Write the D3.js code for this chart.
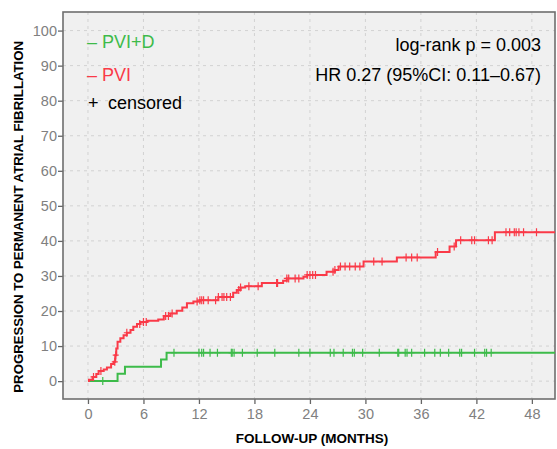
<!DOCTYPE html>
<html>
<head>
<meta charset="utf-8">
<script src="https://cdn.jsdelivr.net/npm/d3@7"></script>
<style>
  body { margin: 0; background: #fff; }
  svg { display: block; font-family: "Liberation Sans", Arial, sans-serif; }
</style>
</head>
<body>
<div id="chart"></div>
<script>
// PVI+D: step times (months) and cumulative % after each step
const pvidSteps = [[0, 0], [3.2, 2.1], [4.0, 4.1], [7.9, 6.2], [8.5, 8.1]];
const pvidCensored = [1.6, 9.3, 12.0, 12.3, 12.5, 13.2, 14.0, 15.5, 15.6, 15.8, 16.7, 18.3, 20.2, 22.8,
  24.0, 26.2, 26.6, 27.6, 28.6, 28.8, 29.7, 31.5, 33.5, 33.6, 34.3, 34.5, 35.0, 36.4, 37.5, 38.1,
  39.0, 40.2, 40.4, 41.8, 42.9, 43.1, 43.6];

// PVI
const pviSteps = [[0, 0], [0.1, 0.4], [0.5, 1.2], [0.9, 2.0], [1.15, 2.9], [1.7, 3.3], [2.05, 3.9],
  [2.5, 4.9], [2.8, 5.5], [2.95, 7.4], [3.06, 9.3], [3.2, 11.2], [3.5, 12.2], [3.85, 13.1],
  [4.2, 13.8], [4.6, 14.6], [4.9, 15.5], [5.3, 16.3], [5.65, 16.9], [6.4, 17.2], [7.6, 17.6],
  [8.2, 18.6], [8.9, 19.3], [9.6, 20.1], [10.2, 21.0], [10.7, 22.2], [11.4, 22.7], [12.1, 23.1],
  [14.1, 24.0], [15.7, 25.2], [16.1, 26.0], [16.5, 26.7], [17.0, 27.1], [18.8, 28.0],
  [21.1, 28.6], [21.5, 29.3], [23.3, 29.8], [23.7, 30.3], [25.8, 31.2], [26.7, 31.7],
  [27.1, 32.7], [29.8, 34.1], [33.4, 35.3], [37.6, 36.8], [39.1, 38.4], [39.8, 40.2],
  [44.0, 42.5]];
const pviCensored = [0.6, 1.4, 2.9, 3.0, 4.2, 5.6, 6.0, 6.3, 8.4, 8.7, 9.1, 11.8, 12.1, 12.3, 12.5,
  13.0, 13.8, 14.1, 14.5, 14.7, 15.0, 15.4, 16.3, 16.5, 17.4, 18.4, 20.4, 20.5, 21.5, 21.7,
  22.4, 22.8, 23.7, 24.0, 24.3, 24.6, 26.5, 26.7, 27.3, 27.8, 28.3, 28.9, 29.4, 30.9, 31.8,
  34.4, 35.0, 35.6, 37.8, 39.6, 40.3, 41.5, 41.8, 43.3, 43.7, 45.2, 45.6, 46.1, 46.3, 46.6,
  47.1, 48.5];

const xTicks = [0, 6, 12, 18, 24, 30, 36, 42, 48];
const yTicks = [0, 10, 20, 30, 40, 50, 60, 70, 80, 90, 100];
const endTime = 50.5;

const W = 557, H = 449;
const margin = { top: 12, right: 2, bottom: 50, left: 63 };
const green = '#3dbb4a', red = '#fa3a48';

const svg = d3.select('#chart').append('svg').attr('width', W).attr('height', H);

const x = d3.scaleLinear().domain([-2.7, endTime]).range([margin.left, W - margin.right]);
const y = d3.scaleLinear().domain([-5.1, 105.3]).range([H - margin.bottom, margin.top]);

// plot background
svg.append('rect')
  .attr('x', margin.left).attr('y', margin.top)
  .attr('width', W - margin.right - margin.left)
  .attr('height', H - margin.bottom - margin.top)
  .attr('fill', '#f0f0f0');

// grid
const grid = svg.append('g').attr('stroke', '#d2d2d2').attr('stroke-dasharray', '3,4');
grid.selectAll('.gx').data(xTicks).enter().append('line')
  .attr('x1', d => x(d)).attr('x2', d => x(d))
  .attr('y1', margin.top).attr('y2', H - margin.bottom);
grid.selectAll('.gy').data(yTicks).enter().append('line')
  .attr('x1', margin.left).attr('x2', W - margin.right)
  .attr('y1', d => y(d)).attr('y2', d => y(d));

// axes
const xAxis = svg.append('g')
  .attr('transform', `translate(0,${H - margin.bottom})`)
  .call(d3.axisBottom(x).tickValues(xTicks).tickSize(5).tickPadding(5));
const yAxis = svg.append('g')
  .attr('transform', `translate(${margin.left},0)`)
  .call(d3.axisLeft(y).tickValues(yTicks).tickSize(5).tickPadding(1));
[xAxis, yAxis].forEach(a => {
  a.select('.domain').remove();
  a.selectAll('line').attr('stroke', '#666').attr('stroke-width', 1.3);
  a.selectAll('text').attr('fill', '#808080').attr('font-size', 14.5)
    .attr('font-family', '"Liberation Sans", Arial, sans-serif');
});

// frame
svg.append('rect')
  .attr('x', margin.left).attr('y', margin.top)
  .attr('width', W - margin.right - margin.left)
  .attr('height', H - margin.bottom - margin.top)
  .attr('fill', 'none').attr('stroke', '#6e6e6e').attr('stroke-width', 1.6);

// step curves
function stepPath(steps) {
  const pts = steps.slice();
  pts.push([endTime, steps[steps.length - 1][1]]);
  return d3.line().x(d => x(d[0])).y(d => y(d[1])).curve(d3.curveStepAfter)(pts);
}
function valueAt(steps, t) {
  let v = 0;
  steps.forEach(s => { if (s[0] <= t) v = s[1]; });
  return v;
}

const groups = [
  { steps: pvidSteps, cens: pvidCensored, color: green },
  { steps: pviSteps, cens: pviCensored, color: red }
];
groups.forEach(g => {
  svg.append('path')
    .attr('d', stepPath(g.steps))
    .attr('fill', 'none').attr('stroke', g.color).attr('stroke-width', 2);
  svg.append('g').selectAll('path').data(g.cens).enter().append('path')
    .attr('d', d => {
      const cx = x(d), cy = y(valueAt(g.steps, d));
      return `M${cx - 3},${cy}H${cx + 3}M${cx},${cy - 4}V${cy + 4}`;
    })
    .attr('stroke', g.color).attr('stroke-width', 1.2);
});

// axis titles
svg.append('text')
  .attr('x', x(24) + 2).attr('y', 443)
  .attr('text-anchor', 'middle')
  .attr('font-size', 13.5).attr('font-weight', 'bold')
  .text('FOLLOW-UP (MONTHS)');
svg.append('text')
  .attr('transform', `translate(23,${y(50) + 11}) rotate(-90)`)
  .attr('text-anchor', 'middle')
  .attr('font-size', 13.2).attr('font-weight', 'bold')
  .text('PROGRESSION TO PERMANENT ATRIAL FIBRILLATION');

// legend
const legend = [
  { label: '– PVI+D', color: green, y: 48 },
  { label: '– PVI', color: red, y: 81 }
];
svg.selectAll('.leg').data(legend).enter().append('text')
  .attr('x', 87).attr('y', d => d.y)
  .attr('fill', d => d.color).attr('font-size', 18)
  .text(d => d.label);
svg.append('text').attr('x', 88).attr('y', 109).attr('font-size', 18).text('+');
svg.append('text').attr('x', 108).attr('y', 109).attr('font-size', 18).text('censored');

// statistics
const stats = ['log-rank p = 0.003', 'HR 0.27 (95%CI: 0.11–0.67)'];
svg.selectAll('.stat').data(stats).enter().append('text')
  .attr('x', 541).attr('y', (d, i) => 51 + i * 30)
  .attr('text-anchor', 'end').attr('font-size', 18)
  .text(d => d);
</script>
</body>
</html>
